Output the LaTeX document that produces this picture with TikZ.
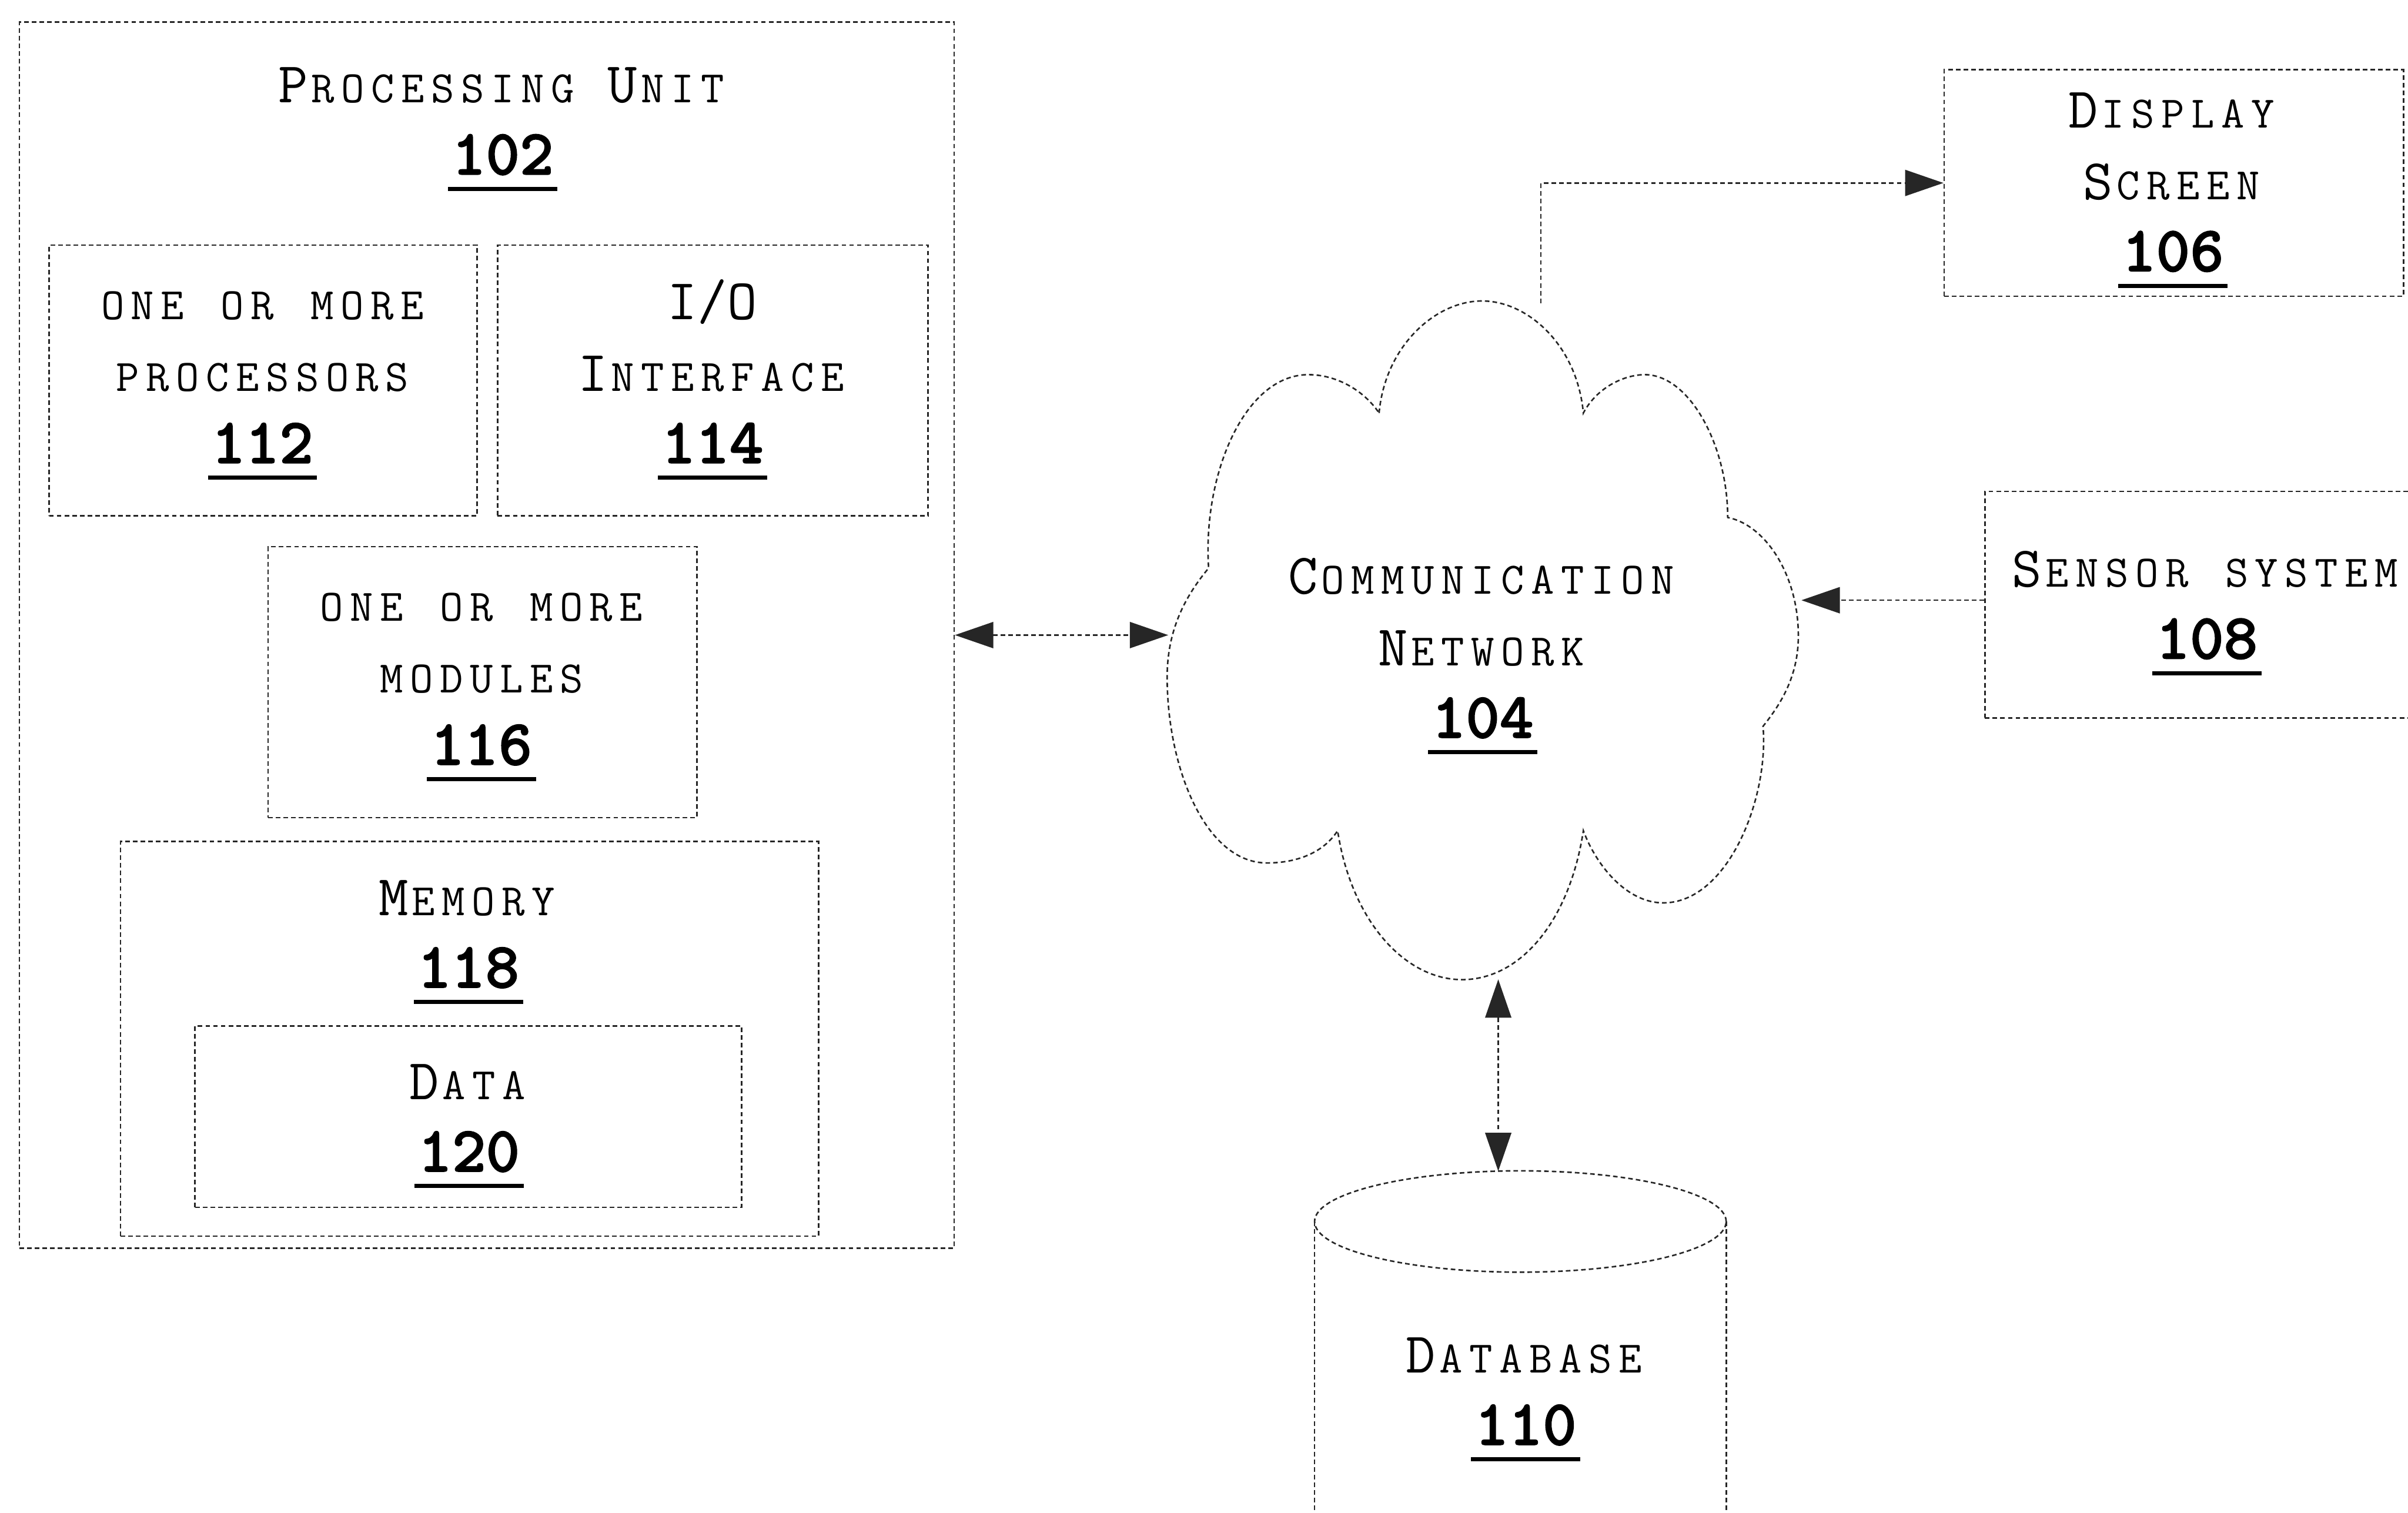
\documentclass[tikz,border=0pt]{standalone}
\usepackage{fontspec}
\usetikzlibrary{arrows.meta}
\newfontfamily\numfont[FakeBold=1.6]{lmmonolt10-bold.otf}
\newlength\cw \setlength\cw{19.5pt}
\def\cellsend{\cellsend}
\def\cellsloop#1{\ifx#1\cellsend\else\makebox[\cw]{#1}\expandafter\cellsloop\fi}
\newcommand\Lc[1]{{\fontsize{37.5}{46.7}\selectfont\cellsloop#1\cellsend}}
\newcommand\Sc[1]{{\fontsize{29.3}{46.7}\selectfont\cellsloop#1\cellsend}}
\newcommand\refnum[1]{{\numfont\fontsize{42}{46.7}\selectfont\setbox0\hbox{#1}\rlap{\kern-2.5pt\rule[-10.8pt]{\dimexpr\wd0+5pt\relax}{2.6pt}}\box0}}
\newcommand\tstrut{\rule{0pt}{30pt}}
\begin{document}
\begin{tikzpicture}[x=1pt,y=-1pt,
  dline/.style={line width=1pt, dash pattern=on 3pt off 2pt, draw=black!85},
  box/.style={dline, rectangle, inner sep=0pt, anchor=north west},
  txt/.style={font=\ttfamily\fontsize{29.3}{46.7}\selectfont, align=center, inner sep=0pt, anchor=north},
  conn/.style={dline, >={Triangle[length=25pt,width=17pt]}}]
\useasboundingbox (0,0) rectangle (1568,985);
\fill[white] (0,0) rectangle (1568,985);
\clip (0,0) rectangle (1568,985);

% boxes
\node[box, minimum width=608.7, minimum height=798.6] (pu) at (12.1,13.8) {};
\node[box, minimum width=278.7, minimum height=176.4] (b112) at (31.5,159.1) {};
\node[box, minimum width=280.3, minimum height=176.4] (b114) at (323.5,159.1) {};
\node[box, minimum width=279.3, minimum height=176.5] (b116) at (174,355.5) {};
\node[box, minimum width=454.5, minimum height=257] (b118) at (78,547.6) {};
\node[box, minimum width=355.8, minimum height=118.2] (b120) at (126.5,667.6) {};
\node[box, minimum width=299, minimum height=147.5] (disp) at (1265.5,44.9) {};
\node[box, minimum width=279, minimum height=147.4] (sens) at (1292,319.6) {};

% texts
\node[txt] (t102) at (327.4,36.7) {\tstrut\Lc{P}\Sc{ROCESSING~}\Lc{U}\Sc{NIT}\\\refnum{102}};
\node[txt] (t112) at (170.9,178) {\tstrut\Sc{ONE~OR~MORE}\\\Sc{PROCESSORS}\\\refnum{112}};
\node[txt] (t114) at (464,178) {\tstrut\Lc{I/O}\\\Lc{I}\Sc{NTERFACE}\\\refnum{114}};
\node[txt] (t116) at (313.5,374.4) {\tstrut\Sc{ONE~OR~MORE}\\\Sc{MODULES}\\\refnum{116}};
\node[txt] (t118) at (305,566.2) {\tstrut\Lc{M}\Sc{EMORY}\\\refnum{118}};
\node[txt] (t120) at (305.4,686) {\tstrut\Lc{D}\Sc{ATA}\\\refnum{120}};
\node[txt] (t106) at (1415,53) {\tstrut\Lc{D}\Sc{ISPLAY}\\\Lc{S}\Sc{CREEN}\\\refnum{106}};
\node[txt] (t108) at (1437,352) {\tstrut\Lc{S}\Sc{ENSOR~SYSTEM}\\\refnum{108}};

% cloud
\draw[dline] (898,269) .. controls (902,225) and (935,196) .. (965,196)
 .. controls (995,196) and (1027,225) .. (1031,269)
 .. controls (1040,252) and (1058,244) .. (1071,244)
 .. controls (1100,244) and (1125,290) .. (1125,337)
 .. controls (1150,342) and (1171,375) .. (1171,414)
 .. controls (1171,440) and (1160,458) .. (1148,473)
 .. controls (1152,520) and (1125,588) .. (1083,588)
 .. controls (1060,588) and (1040,565) .. (1031,541)
 .. controls (1022,600) and (990,638) .. (952,638)
 .. controls (915,638) and (880,600) .. (871,541)
 .. controls (862,555) and (845,562) .. (825,562)
 .. controls (785,562) and (760,500) .. (760,441)
 .. controls (760,410) and (772,388) .. (787,370)
 .. controls (783,310) and (810,244) .. (852,244)
 .. controls (870,244) and (888,254) .. (898,269) -- cycle;
\node[txt] (t104) at (965.5,356.8) {\tstrut\Lc{C}\Sc{OMMUNICATION}\\\Lc{N}\Sc{ETWORK}\\\refnum{104}};
\coordinate (clw) at (760.7,413.1);
\coordinate (cln) at (1003.4,197.4);
\coordinate (cle) at (1173,390.9);
\coordinate (cls) at (975.6,637.8);

% database cylinder
\draw[dline] (990,795.5) ellipse [x radius=134pt, y radius=33pt];
\draw[dline] (856,795.5) -- (856,1000);
\draw[dline] (1124,795.5) -- (1124,1000);
\coordinate (dbtop) at (975.6,762.7);
\node[txt] (t110) at (993.5,864) {\tstrut\Lc{D}\Sc{ATABASE}\\\refnum{110}};

% connectors
\draw[conn,<->] (pu.east) -- (pu.east -| clw);
\draw[conn,->] (cln) |- (disp.west);
\draw[conn,->] (sens.west |- cle) -- (cle);
\draw[conn,<->] (cls) -- (dbtop);
\end{tikzpicture}
\end{document}
